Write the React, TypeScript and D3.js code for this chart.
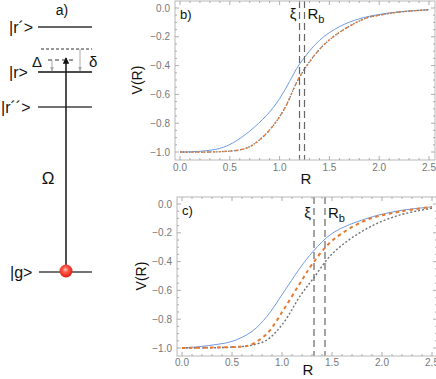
import React from "react";
import * as d3 from "d3";

// Panel b data (R, V)
const bBlueR = [0, 0.2, 0.4, 0.535, 0.7, 0.87, 1.0, 1.1, 1.2, 1.4, 1.6, 1.8, 2.0, 2.2, 2.5];
const bBlueV = [-1.0, -0.995, -0.975, -0.935, -0.855, -0.745, -0.63, -0.51, -0.39, -0.225, -0.13, -0.075, -0.045, -0.027, -0.012];
const bOrangeR = [0, 0.4, 0.6, 0.7, 0.87, 1.04, 1.2, 1.41, 1.61, 1.87, 2.0, 2.2, 2.5];
const bOrangeV = [-1.0, -0.998, -0.985, -0.963, -0.87, -0.71, -0.48, -0.28, -0.165, -0.07, -0.05, -0.028, -0.012];
const bXi = 1.2;
const bRb = 1.25;

// Panel c data
const cBlueR = [0, 0.18, 0.35, 0.51, 0.7, 0.85, 1.01, 1.18, 1.31, 1.51, 1.85, 2.18, 2.5];
const cBlueV = [-1.0, -0.99, -0.975, -0.952, -0.885, -0.78, -0.62, -0.445, -0.33, -0.2, -0.1, -0.046, -0.02];
const cOrangeR = [0, 0.4, 0.6, 0.68, 0.85, 1.01, 1.18, 1.31, 1.51, 1.85, 2.18, 2.5];
const cOrangeV = [-1.0, -0.995, -0.99, -0.98, -0.9, -0.74, -0.55, -0.41, -0.25, -0.11, -0.053, -0.02];
const cGrayR = [0, 0.4, 0.6, 0.7, 0.85, 1.01, 1.18, 1.31, 1.51, 1.85, 2.18, 2.5];
const cGrayV = [-1.0, -0.997, -0.99, -0.98, -0.944, -0.83, -0.64, -0.52, -0.34, -0.17, -0.076, -0.03];
const cXi = 1.32;
const cRb = 1.43;

const xTickVals = [0, 0.5, 1.0, 1.5, 2.0, 2.5];
const yTickVals = [0, -0.2, -0.4, -0.6, -0.8, -1.0];

const FONT = "'Liberation Sans', Arial, sans-serif";

type PanelProps = {
  xr: [number, number];
  yr: [number, number];
  frame: { l: number; r: number; t: number; b: number };
  label: string;
  curves: { R: number[]; V: number[]; color: string; width: number; dash?: string }[];
  xi: number;
  rb: number;
  labelY: number;
  xiLabelY: number;
  tickLabelY: number;
  rLabelY: number;
  vLabelX: number;
};

function Panel(p: PanelProps) {
  const x = d3.scaleLinear().domain([0, 2.5]).range(p.xr);
  const y = d3.scaleLinear().domain([-1, 0]).range(p.yr);
  const { l, r, t, b } = p.frame;
  const line = d3
    .line<[number, number]>()
    .x((d) => x(d[0]))
    .y((d) => y(d[1]))
    .curve(d3.curveCatmullRom.alpha(0.5));
  const minorX = d3.range(0, 26).map((i) => i / 10).filter((v) => x(v) > l && x(v) < r);
  const minorY = d3.range(0, 21).map((i) => -i / 20).filter((v) => y(v) > t && y(v) < b);
  const isMajorX = (v: number) => Math.abs(v * 2 - Math.round(v * 2)) < 1e-6;
  const isMajorY = (v: number) => Math.abs(v * 5 - Math.round(v * 5)) < 1e-6;
  const frameColor = "#b8b8b8";
  const tickColor = "#9a9a9a";
  return (
    <g>
      {p.curves.map((c, i) => (
        <path
          key={i}
          d={line(c.R.map((rv, j) => [rv, c.V[j]] as [number, number])) || ""}
          fill="none"
          stroke={c.color}
          strokeWidth={c.width}
          strokeDasharray={c.dash}
        />
      ))}
      {[p.xi, p.rb].map((v, i) => (
        <line
          key={i}
          x1={x(v)}
          x2={x(v)}
          y1={t}
          y2={b}
          stroke="#666"
          strokeWidth={1.2}
          strokeDasharray="7,4"
        />
      ))}
      <rect x={l} y={t} width={r - l} height={b - t} fill="none" stroke={frameColor} strokeWidth={1} />
      {minorX.map((v, i) => {
        const len = isMajorX(v) ? 4 : 2;
        return (
          <g key={"x" + i}>
            <line x1={x(v)} x2={x(v)} y1={b} y2={b - len} stroke={tickColor} strokeWidth={0.8} />
            <line x1={x(v)} x2={x(v)} y1={t} y2={t + len} stroke={tickColor} strokeWidth={0.8} />
          </g>
        );
      })}
      {minorY.map((v, i) => {
        const len = isMajorY(v) ? 4 : 2;
        return (
          <g key={"y" + i}>
            <line x1={l} x2={l + len} y1={y(v)} y2={y(v)} stroke={tickColor} strokeWidth={0.8} />
            <line x1={r} x2={r - len} y1={y(v)} y2={y(v)} stroke={tickColor} strokeWidth={0.8} />
          </g>
        );
      })}
      {xTickVals.map((v, i) => (
        <text key={"xl" + i} x={x(v)} y={p.tickLabelY} fontSize={10} fill="#777" textAnchor="middle" fontFamily={FONT}>
          {v.toFixed(1)}
        </text>
      ))}
      {yTickVals.map((v, i) => (
        <text key={"yl" + i} x={l - 5} y={y(v) + 3.5} fontSize={10} fill="#777" textAnchor="end" fontFamily={FONT}>
          {v === 0 ? "0.0" : "\u2212" + Math.abs(v).toFixed(1)}
        </text>
      ))}
      <text x={(l + r) / 2 + 1} y={p.rLabelY} fontSize={15} textAnchor="middle" fontFamily={FONT} fill="#111">
        R
      </text>
      <text
        transform={`translate(${p.vLabelX},${(y(-1) + y(0)) / 2}) rotate(-90)`}
        fontSize={14}
        textAnchor="middle"
        fontFamily={FONT}
        fill="#111"
      >
        V(R)
      </text>
      <text x={l + 5} y={p.labelY} fontSize={13} fontFamily={FONT} fill="#111">
        {p.label}
      </text>
      <text x={x(p.xi) - 3} y={p.xiLabelY} fontSize={15} textAnchor="end" fontFamily={FONT} fill="#111">
        ξ
      </text>
      <text x={x(p.rb) + 3} y={p.xiLabelY} fontSize={15} fontFamily={FONT} fill="#111">
        R<tspan fontSize={11} dy={4}>b</tspan>
      </text>
    </g>
  );
}

function LevelDiagram() {
  const lx1 = 38;
  const lx2 = 92;
  const ax = 66;
  return (
    <g fontFamily={FONT}>
      <defs>
        <radialGradient id="ball" cx="0.45" cy="0.4" r="0.6">
          <stop offset="0" stopColor="#ffd0c8" />
          <stop offset="0.35" stopColor="#ff5a4a" />
          <stop offset="1" stopColor="#e01a10" />
        </radialGradient>
        <marker id="arrB" viewBox="0 0 10 10" refX="9" refY="5" markerWidth="4" markerHeight="4" orient="auto">
          <path d="M0,0 L10,5 L0,10 z" fill="#111" />
        </marker>
        <marker id="arrG" viewBox="0 0 10 10" refX="9" refY="5" markerWidth="5" markerHeight="5" orient="auto">
          <path d="M0,1 L10,5 L0,9 z" fill="#aaa" />
        </marker>
      </defs>
      <text x={62} y={15} fontSize={14} textAnchor="middle" fill="#111">a)</text>
      <text x={9} y={33} fontSize={16} fill="#111">|r´&gt;</text>
      <line x1={lx1} x2={lx2} y1={27} y2={27} stroke="#333" strokeWidth={1.3} />
      <line x1={41} x2={lx2} y1={49} y2={49} stroke="#333" strokeWidth={1} strokeDasharray="3,2" />
      <line x1={48} x2={75} y1={60} y2={60} stroke="#333" strokeWidth={1} strokeDasharray="4,3" />
      <text x={32} y={67} fontSize={15} fill="#111">Δ</text>
      <text x={89} y={67} fontSize={15} fill="#111">δ</text>
      <line x1={52} x2={52} y1={60} y2={71} stroke="#aaa" strokeWidth={1} markerEnd="url(#arrG)" />
      <line x1={80} x2={80} y1={49} y2={71} stroke="#aaa" strokeWidth={1} markerEnd="url(#arrG)" />
      <text x={9} y={78} fontSize={16} fill="#111">|r&gt;</text>
      <line x1={lx1} x2={lx2} y1={72} y2={72} stroke="#111" strokeWidth={1.6} />
      <text x={1} y={113} fontSize={16} fill="#111">|r´´&gt;</text>
      <line x1={lx1} x2={lx2} y1={107} y2={107} stroke="#444" strokeWidth={1.3} />
      <text x={10} y={278} fontSize={16} fill="#111">|g&gt;</text>
      <line x1={39} x2={lx2} y1={272} y2={272} stroke="#444" strokeWidth={1.3} />
      <line x1={ax} x2={ax} y1={271} y2={58} stroke="#222" strokeWidth={1.6} markerEnd="url(#arrB)" />
      <text x={48} y={184} fontSize={17} textAnchor="middle" fill="#111">Ω</text>
      <circle cx={ax} cy={271} r={6.5} fill="url(#ball)" />
    </g>
  );
}

export default function App() {
  return (
    <svg
      width={436}
      height={379}
      style={{ position: "absolute", left: 0, top: 0, background: "#fff" }}
    >
      <LevelDiagram />
      <Panel
        xr={[180, 429]}
        yr={[152, 8]}
        frame={{ l: 175, r: 435, t: 1, b: 160 }}
        label="b)"
        curves={[
          { R: bBlueR, V: bBlueV, color: "#6f9be3", width: 1 },
          { R: bOrangeR, V: bOrangeV, color: "#6e7478", width: 1.3, dash: "1.5,1.5" },
          { R: bOrangeR, V: bOrangeV, color: "#e8782e", width: 1.3, dash: "2.5,3" },
        ]}
        xi={bXi}
        rb={bRb}
        labelY={19}
        xiLabelY={19}
        tickLabelY={171}
        rLabelY={184}
        vLabelX={142}
      />
      <Panel
        xr={[182, 432]}
        yr={[348, 204]}
        frame={{ l: 177, r: 437, t: 197, b: 356 }}
        label="c)"
        curves={[
          { R: cBlueR, V: cBlueV, color: "#6f9be3", width: 1 },
          { R: cGrayR, V: cGrayV, color: "#6e7478", width: 1.4, dash: "2,2" },
          { R: cOrangeR, V: cOrangeV, color: "#e8782e", width: 2, dash: "3.5,3.5" },
        ]}
        xi={cXi}
        rb={cRb}
        labelY={215}
        xiLabelY={218}
        tickLabelY={366}
        rLabelY={375}
        vLabelX={146}
      />
    </svg>
  );
}
